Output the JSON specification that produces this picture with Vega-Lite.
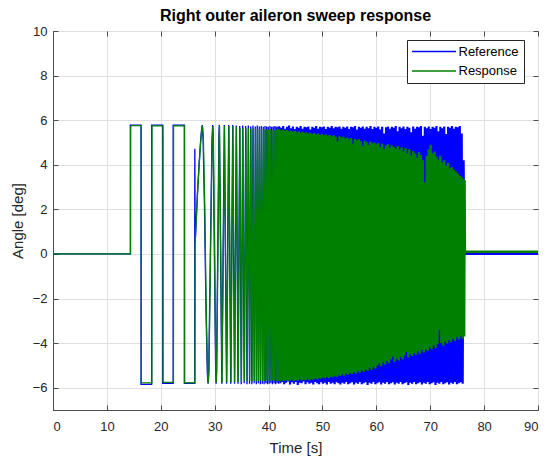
{
"$schema":"https://vega.github.io/schema/vega-lite/v6.json",
"width":485,"height":379,
"autosize":{"type":"none"},
"padding":{"left":53,"top":31,"right":7,"bottom":50},
"background":"white",
"title":{"text":"Right outer aileron sweep response","fontSize":16,"fontWeight":"bold","font":"Liberation Sans","color":"#000000","anchor":"middle","baseline":"alphabetic","offset":9.5,"frame":"group","dy":21.5},
"config":{
 "view":{"stroke":"#4d4d4d","strokeWidth":1},
 "axis":{"labelFont":"Liberation Sans","labelFontSize":13,"labelColor":"#262626","titleFont":"Liberation Sans","titleFontSize":15,"titleColor":"#262626","titleFontWeight":"normal","gridColor":"#dfdfdf","gridWidth":1,"gridOpacity":1,"domainColor":"#4d4d4d","domainWidth":1,"tickColor":"#4d4d4d","tickSize":-5,"tickWidth":1},
 "legend":{"orient":"none","legendX":354,"legendY":9,"labelFont":"Liberation Sans","labelFontSize":13,"labelColor":"#000000","strokeColor":"#262626","fillColor":"white","padding":5,"symbolType":"M-4,0H4","symbolSize":121,"symbolOffset":15.5,"symbolStrokeWidth":1.5,"labelOffset":18,"rowPadding":5.5}
},
"datasets":{
"ref":[{"t":0,"v":0},{"t":14.35,"v":0},{"t":14.351,"v":5.78},{"t":16.33,"v":5.78},{"t":16.331,"v":-5.85},{"t":18.3,"v":-5.85},{"t":18.301,"v":5.78},{"t":20.35,"v":5.78},{"t":20.351,"v":-5.8},{"t":22.3,"v":-5.8},{"t":22.301,"v":5.78},{"t":24.37,"v":5.78},{"t":24.371,"v":-5.8},{"t":26.3,"v":-5.8},{"t":26.301,"v":0},{"t":26.32,"v":4.72},{"t":26.38,"v":0.5},{"t":26.8,"v":2.7},{"t":27.1,"v":4.0},{"t":27.4,"v":5.1},{"t":27.6,"v":5.65},{"t":27.7,"v":5.78},{"t":27.85,"v":5.2},{"t":28.1,"v":2.25},{"t":28.24,"v":0},{"t":28.4,"v":-2.6},{"t":28.65,"v":-5.4},{"t":28.78,"v":-5.82},{"t":28.9,"v":-5.25},{"t":29.2,"v":0},{"t":29.5,"v":5.1},{"t":29.63,"v":5.78},{"t":29.72,"v":5.2},{"t":30.18,"v":-5.2},{"t":30.27,"v":-5.82},{"t":30.35,"v":-5.2},{"t":30.78,"v":5.2},{"t":30.86,"v":5.78},{"t":31.33,"v":-5.82},{"t":31.79,"v":5.78},{"t":32.2,"v":-5.82},{"t":32.6,"v":5.78},{"t":32.98,"v":-5.82},{"t":33.35,"v":5.78},{"t":33.68,"v":-5.82},{"t":34.01,"v":5.76},{"t":34.33,"v":-5.82},{"t":34.65,"v":5.74},{"t":34.93,"v":-5.84},{"t":35.2,"v":5.76},{"t":35.48,"v":-5.8},{"t":35.76,"v":5.74},{"t":36.0,"v":-5.84},{"t":36.24,"v":5.76},{"t":36.47,"v":-5.82},{"t":36.69,"v":5.72},{"t":36.9,"v":-5.84},{"t":37.11,"v":5.76},{"t":37.33,"v":-5.8},{"t":37.54,"v":5.72},{"t":37.73,"v":-5.84},{"t":37.91,"v":5.76},{"t":38.1,"v":-5.8},{"t":38.28,"v":5.72},{"t":38.47,"v":-5.84},{"t":38.65,"v":5.74},{"t":38.84,"v":-5.82},{"t":39.02,"v":5.7},{"t":39.18,"v":-5.84},{"t":39.34,"v":5.74},{"t":39.5,"v":-5.8},{"t":39.65,"v":5.72},{"t":39.8,"v":-5.84},{"t":39.95,"v":5.7},{"t":40.11,"v":-5.82},{"t":40.27,"v":5.74},{"t":40.43,"v":-5.8},{"t":40.58,"v":5.7},{"t":40.73,"v":-5.84},{"t":40.88,"v":5.72},{"t":41.03,"v":-5.8},{"t":41.17,"v":5.74},{"t":41.31,"v":-5.84},{"t":41.45,"v":5.7},{"t":41.59,"v":-5.8},{"t":41.73,"v":5.72},{"t":41.87,"v":-5.82},{"t":42.0,"v":5.72}],
"res":[{"t":0,"v":0},{"t":14.4,"v":0},{"t":14.42,"v":5.72},{"t":14.6,"v":5.76},{"t":16.38,"v":5.76},{"t":16.4,"v":-5.78},{"t":18.35,"v":-5.78},{"t":18.37,"v":5.74},{"t":20.4,"v":5.74},{"t":20.42,"v":-5.76},{"t":22.35,"v":-5.76},{"t":22.37,"v":5.74},{"t":24.42,"v":5.74},{"t":24.44,"v":-5.78},{"t":26.34,"v":-5.78},{"t":26.38,"v":0.5},{"t":26.8,"v":2.6},{"t":27.1,"v":3.9},{"t":27.4,"v":5.0},{"t":27.6,"v":5.6},{"t":27.75,"v":5.75},{"t":27.9,"v":5.2},{"t":28.15,"v":2.25},{"t":28.28,"v":0},{"t":28.44,"v":-2.6},{"t":28.69,"v":-5.4},{"t":28.82,"v":-5.78},{"t":28.94,"v":-5.25},{"t":29.24,"v":0},{"t":29.54,"v":5.1},{"t":29.67,"v":5.74},{"t":29.76,"v":5.2},{"t":30.22,"v":-5.2},{"t":30.31,"v":-5.78},{"t":30.39,"v":-5.2},{"t":30.82,"v":5.2},{"t":30.9,"v":5.74},{"t":31.37,"v":-5.78},{"t":31.83,"v":5.74},{"t":32.24,"v":-5.78},{"t":32.64,"v":5.74},{"t":33.02,"v":-5.78},{"t":33.39,"v":5.74},{"t":33.72,"v":-5.76},{"t":34.05,"v":5.7},{"t":34.37,"v":-5.74},{"t":34.69,"v":5.66},{"t":34.97,"v":-5.72},{"t":35.24,"v":5.66},{"t":35.52,"v":-5.7},{"t":35.8,"v":5.64},{"t":36.04,"v":-5.72},{"t":36.28,"v":5.66},{"t":36.51,"v":-5.7},{"t":36.73,"v":5.62},{"t":36.94,"v":-5.72},{"t":37.15,"v":5.64},{"t":37.37,"v":-5.7},{"t":37.58,"v":5.62},{"t":37.77,"v":-5.72},{"t":37.95,"v":5.6},{"t":38.14,"v":-5.7},{"t":38.32,"v":5.62},{"t":38.51,"v":-5.68},{"t":38.69,"v":5.6},{"t":38.88,"v":-5.72},{"t":39.06,"v":5.62},{"t":39.22,"v":-5.7},{"t":39.38,"v":5.58},{"t":39.54,"v":-5.68},{"t":39.69,"v":5.6},{"t":39.84,"v":-5.7},{"t":39.99,"v":5.58},{"t":40.15,"v":-5.68},{"t":40.31,"v":5.6},{"t":40.47,"v":-5.7},{"t":40.62,"v":5.56},{"t":40.77,"v":-5.68},{"t":40.92,"v":5.58},{"t":41.07,"v":-5.7},{"t":41.21,"v":5.56},{"t":41.35,"v":-5.68},{"t":41.49,"v":5.58},{"t":41.63,"v":-5.7},{"t":41.77,"v":5.56},{"t":41.9,"v":-5.7},{"t":42.0,"v":5.6}],
"dense":[{"t":42.0,"a":5.72,"b":5.6},{"t":42.18,"a":-5.8,"b":-5.72},{"t":42.36,"a":5.66,"b":5.55},{"t":42.54,"a":-5.74,"b":-5.68},{"t":42.72,"a":5.74,"b":5.58},{"t":42.9,"a":-5.84,"b":-5.7},{"t":43.08,"a":5.62,"b":5.52},{"t":43.26,"a":-5.78,"b":-5.66},{"t":43.44,"a":5.7,"b":5.56},{"t":43.62,"a":-5.72,"b":-5.7},{"t":43.8,"a":5.76,"b":5.5},{"t":43.98,"a":-5.86,"b":-5.68},{"t":44.16,"a":5.64,"b":5.54},{"t":44.34,"a":-5.76,"b":-5.64},{"t":44.52,"a":5.72,"b":5.48},{"t":44.7,"a":-5.82,"b":-5.7},{"t":44.88,"a":5.6,"b":5.52},{"t":45.06,"a":-5.74,"b":-5.66},{"t":45.24,"a":5.7,"b":5.46},{"t":45.42,"a":-5.88,"b":-5.68},{"t":45.6,"a":5.66,"b":5.5},{"t":45.78,"a":-5.78,"b":-5.62},{"t":45.96,"a":5.74,"b":5.44},{"t":46.14,"a":-5.8,"b":-5.68},{"t":46.32,"a":5.62,"b":5.48},{"t":46.5,"a":-5.72,"b":-5.64},{"t":46.68,"a":5.7,"b":5.42},{"t":46.86,"a":-5.84,"b":-5.66},{"t":47.04,"a":5.68,"b":5.46},{"t":47.22,"a":-5.76,"b":-5.6},{"t":47.4,"a":5.72,"b":5.4},{"t":47.58,"a":-5.82,"b":-5.66},{"t":47.76,"a":5.58,"b":5.44},{"t":47.94,"a":-5.78,"b":-5.62},{"t":48.12,"a":5.7,"b":5.38},{"t":48.3,"a":-5.86,"b":-5.64},{"t":48.48,"a":5.66,"b":5.42},{"t":48.66,"a":-5.74,"b":-5.58},{"t":48.84,"a":5.74,"b":5.36},{"t":49.02,"a":-5.8,"b":-5.62},{"t":49.2,"a":5.62,"b":5.4},{"t":49.38,"a":-5.84,"b":-5.56},{"t":49.56,"a":5.7,"b":5.34},{"t":49.74,"a":-5.76,"b":-5.6},{"t":49.92,"a":5.68,"b":5.38},{"t":50.1,"a":-5.82,"b":-5.54},{"t":50.28,"a":5.72,"b":5.32},{"t":50.46,"a":-5.78,"b":-5.58},{"t":50.64,"a":5.6,"b":5.36},{"t":50.82,"a":-5.86,"b":-5.52},{"t":51.0,"a":5.7,"b":5.3},{"t":51.18,"a":-5.74,"b":-5.56},{"t":51.36,"a":5.66,"b":5.34},{"t":51.54,"a":-5.82,"b":-5.5},{"t":51.72,"a":5.74,"b":5.28},{"t":51.9,"a":-5.78,"b":-5.54},{"t":52.08,"a":5.64,"b":5.32},{"t":52.26,"a":-5.84,"b":-5.46},{"t":52.44,"a":5.7,"b":5.26},{"t":52.62,"a":-5.76,"b":-5.52},{"t":52.8,"a":5.68,"b":5.05},{"t":52.98,"a":-5.8,"b":-5.44},{"t":53.16,"a":5.72,"b":5.28},{"t":53.34,"a":-5.86,"b":-5.48},{"t":53.52,"a":5.62,"b":5.22},{"t":53.7,"a":-5.78,"b":-5.4},{"t":53.88,"a":5.7,"b":5.26},{"t":54.06,"a":-5.82,"b":-5.46},{"t":54.24,"a":5.66,"b":5.18},{"t":54.42,"a":-5.74,"b":-5.36},{"t":54.6,"a":5.72,"b":5.22},{"t":54.78,"a":-5.84,"b":-5.42},{"t":54.96,"a":5.6,"b":5.14},{"t":55.14,"a":-5.8,"b":-5.34},{"t":55.32,"a":5.7,"b":5.2},{"t":55.5,"a":-5.76,"b":-5.38},{"t":55.68,"a":5.68,"b":4.95},{"t":55.86,"a":-5.86,"b":-5.3},{"t":56.04,"a":5.74,"b":5.16},{"t":56.22,"a":-5.78,"b":-5.36},{"t":56.4,"a":5.58,"b":5.1},{"t":56.58,"a":-5.82,"b":-5.26},{"t":56.76,"a":5.7,"b":5.14},{"t":56.94,"a":-5.74,"b":-5.32},{"t":57.12,"a":5.66,"b":5.06},{"t":57.3,"a":-5.84,"b":-5.22},{"t":57.48,"a":5.72,"b":4.85},{"t":57.66,"a":-5.8,"b":-5.28},{"t":57.84,"a":5.62,"b":5.08},{"t":58.02,"a":-5.76,"b":-5.18},{"t":58.2,"a":5.7,"b":5.02},{"t":58.38,"a":-5.88,"b":-5.24},{"t":58.56,"a":5.64,"b":4.9},{"t":58.74,"a":-5.78,"b":-5.1},{"t":58.92,"a":5.74,"b":5.04},{"t":59.1,"a":-5.82,"b":-5.2},{"t":59.28,"a":5.6,"b":4.96},{"t":59.46,"a":-5.74,"b":-5.06},{"t":59.64,"a":5.7,"b":5.0},{"t":59.82,"a":-5.84,"b":-5.14},{"t":60.0,"a":5.66,"b":4.92},{"t":60.18,"a":-5.8,"b":-5.0},{"t":60.36,"a":5.72,"b":4.98},{"t":60.54,"a":-5.76,"b":-4.9},{"t":60.72,"a":5.58,"b":4.8},{"t":60.9,"a":-5.86,"b":-5.04},{"t":61.08,"a":5.7,"b":4.94},{"t":61.26,"a":-5.78,"b":-4.86},{"t":61.44,"a":5.4,"b":4.7},{"t":61.62,"a":-5.82,"b":-4.96},{"t":61.8,"a":5.68,"b":4.88},{"t":61.98,"a":-5.74,"b":-4.8},{"t":62.16,"a":5.72,"b":4.92},{"t":62.34,"a":-5.84,"b":-4.9},{"t":62.52,"a":5.62,"b":4.76},{"t":62.7,"a":-5.8,"b":-4.74},{"t":62.88,"a":5.7,"b":4.86},{"t":63.06,"a":-5.76,"b":-4.6},{"t":63.24,"a":5.66,"b":4.8},{"t":63.42,"a":-5.86,"b":-4.84},{"t":63.6,"a":5.74,"b":4.72},{"t":63.78,"a":-5.78,"b":-4.7},{"t":63.96,"a":5.5,"b":4.84},{"t":64.14,"a":-5.82,"b":-4.78},{"t":64.32,"a":5.7,"b":4.66},{"t":64.5,"a":-5.74,"b":-4.62},{"t":64.68,"a":5.64,"b":4.78},{"t":64.86,"a":-5.84,"b":-4.72},{"t":65.04,"a":5.72,"b":4.6},{"t":65.22,"a":-5.8,"b":-4.56},{"t":65.4,"a":5.6,"b":4.74},{"t":65.58,"a":-5.76,"b":-4.4},{"t":65.76,"a":5.7,"b":4.52},{"t":65.94,"a":-5.88,"b":-4.64},{"t":66.12,"a":5.66,"b":4.7},{"t":66.3,"a":-5.78,"b":-4.5},{"t":66.48,"a":5.46,"b":4.4},{"t":66.66,"a":-5.82,"b":-4.58},{"t":66.84,"a":5.72,"b":4.62},{"t":67.02,"a":-5.74,"b":-4.44},{"t":67.2,"a":5.62,"b":4.5},{"t":67.38,"a":-5.84,"b":-4.52},{"t":67.56,"a":5.7,"b":4.3},{"t":67.74,"a":-5.8,"b":-4.36},{"t":67.92,"a":5.68,"b":4.56},{"t":68.1,"a":-5.76,"b":-4.48},{"t":68.28,"a":5.74,"b":4.44},{"t":68.46,"a":-5.86,"b":-4.3},{"t":68.64,"a":5.3,"b":4.2},{"t":68.82,"a":-5.78,"b":-4.42},{"t":69.0,"a":5.7,"b":3.2},{"t":69.18,"a":-5.82,"b":-4.26},{"t":69.36,"a":5.64,"b":4.4},{"t":69.54,"a":-5.74,"b":-4.34},{"t":69.72,"a":5.72,"b":4.7},{"t":69.9,"a":-5.84,"b":-4.18},{"t":70.08,"a":5.6,"b":4.9},{"t":70.26,"a":-5.8,"b":-4.28},{"t":70.44,"a":5.7,"b":4.5},{"t":70.62,"a":-5.76,"b":-4.1},{"t":70.8,"a":5.66,"b":4.6},{"t":70.98,"a":-5.88,"b":-4.22},{"t":71.16,"a":5.74,"b":4.36},{"t":71.34,"a":-5.78,"b":-4.04},{"t":71.52,"a":5.5,"b":4.24},{"t":71.7,"a":-5.82,"b":-3.4},{"t":71.88,"a":5.7,"b":4.4},{"t":72.06,"a":-5.74,"b":-4.0},{"t":72.24,"a":5.64,"b":4.1},{"t":72.42,"a":-5.84,"b":-4.12},{"t":72.6,"a":5.72,"b":4.2},{"t":72.78,"a":-5.8,"b":-3.94},{"t":72.96,"a":5.38,"b":3.96},{"t":73.14,"a":-5.76,"b":-4.02},{"t":73.32,"a":5.7,"b":4.08},{"t":73.5,"a":-5.86,"b":-3.86},{"t":73.68,"a":5.66,"b":3.84},{"t":73.86,"a":-5.78,"b":-3.96},{"t":74.04,"a":5.74,"b":3.9},{"t":74.22,"a":-5.82,"b":-3.8},{"t":74.4,"a":5.62,"b":3.76},{"t":74.58,"a":-5.74,"b":-3.9},{"t":74.76,"a":5.7,"b":3.7},{"t":74.94,"a":-5.84,"b":-3.74},{"t":75.12,"a":5.68,"b":3.6},{"t":75.3,"a":-5.8,"b":-3.84},{"t":75.48,"a":5.74,"b":3.5},{"t":75.66,"a":-5.76,"b":-3.7},{"t":75.84,"a":5.4,"b":3.44},{"t":76.02,"a":-5.82,"b":-3.8},{"t":76.2,"a":4.2,"b":3.36},{"t":76.3,"a":0,"b":-3.7},{"t":76.38,"a":0,"b":3.3},{"t":76.44,"a":0,"b":0.1},{"t":90,"a":0,"b":0.1}]
},
"layer":[
{"data":{"name":"ref"},"mark":{"type":"line","strokeWidth":1.3},
 "encoding":{
  "x":{"field":"t","type":"quantitative","scale":{"domain":[0,90],"nice":false,"zero":false},"axis":{"orient":"bottom","values":[0,10,20,30,40,50,60,70,80,90],"title":"Time [s]","labelPadding":15,"titlePadding":7,"grid":true}},
  "y":{"field":"v","type":"quantitative","scale":{"domain":[-7,10],"nice":false,"zero":false},"axis":{"orient":"left","values":[-6,-4,-2,0,2,4,6,8,10],"title":"Angle [deg]","labelPadding":11,"titlePadding":7,"grid":true}},
  "color":{"datum":"Reference","type":"nominal","scale":{"domain":["Reference","Response"],"range":["#0000ff","#008000"]},"legend":{"title":null}}}},
{"data":{"name":"dense"},"mark":{"type":"line","strokeWidth":2.2},
 "encoding":{
  "x":{"field":"t","type":"quantitative","scale":{"domain":[0,90],"nice":false,"zero":false},"axis":null},
  "y":{"field":"a","type":"quantitative","scale":{"domain":[-7,10],"nice":false,"zero":false},"axis":null},
  "color":{"datum":"Reference","type":"nominal","scale":{"domain":["Reference","Response"],"range":["#0000ff","#008000"]},"legend":{"title":null}}}},
{"data":{"name":"res"},"mark":{"type":"line","strokeWidth":1.3},
 "encoding":{
  "x":{"field":"t","type":"quantitative","scale":{"domain":[0,90],"nice":false,"zero":false},"axis":null},
  "y":{"field":"v","type":"quantitative","scale":{"domain":[-7,10],"nice":false,"zero":false},"axis":null},
  "color":{"datum":"Response","type":"nominal","scale":{"domain":["Reference","Response"],"range":["#0000ff","#008000"]},"legend":{"title":null}}}},
{"data":{"name":"dense"},"mark":{"type":"line","strokeWidth":2.4},
 "encoding":{
  "x":{"field":"t","type":"quantitative","scale":{"domain":[0,90],"nice":false,"zero":false},"axis":{"orient":"top","values":[0,10,20,30,40,50,60,70,80,90],"labels":false,"title":null,"grid":false,"domain":false}},
  "y":{"field":"b","type":"quantitative","scale":{"domain":[-7,10],"nice":false,"zero":false},"axis":{"orient":"right","values":[-6,-4,-2,0,2,4,6,8,10],"labels":false,"title":null,"grid":false,"domain":false}},
  "color":{"datum":"Response","type":"nominal","scale":{"domain":["Reference","Response"],"range":["#0000ff","#008000"]},"legend":{"title":null}}}}
],
"resolve":{"axis":{"x":"independent","y":"independent"}}
}
